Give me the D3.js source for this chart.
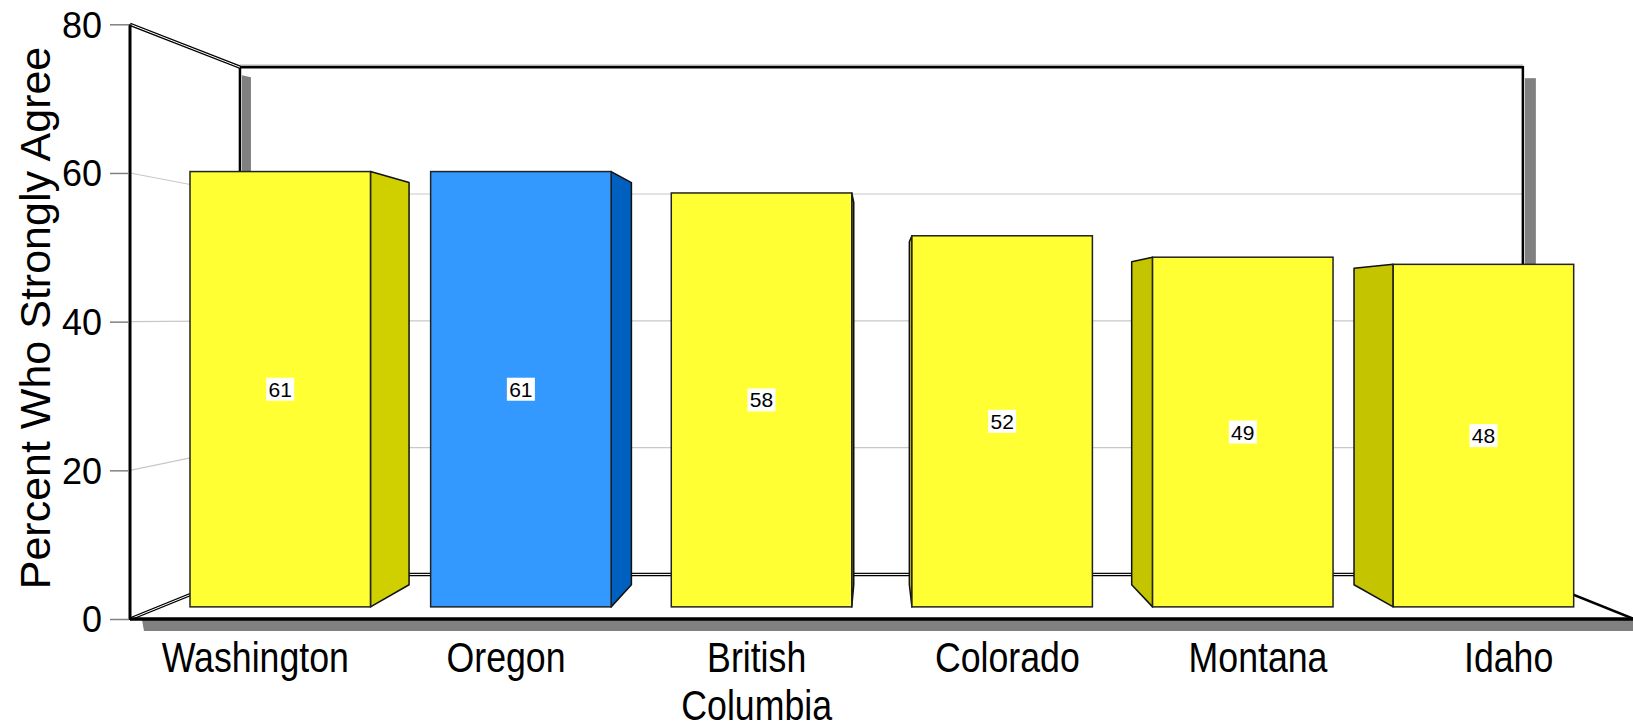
<!DOCTYPE html>
<html><head><meta charset="utf-8">
<script src="https://cdn.jsdelivr.net/npm/d3@7"></script>
<style>html,body{margin:0;padding:0;background:#fff;}svg{display:block;}</style>
</head><body>
<script>
const categories = ["Washington", "Oregon", "British Columbia", "Colorado", "Montana", "Idaho"];
const values = [61, 61, 58, 52, 49, 48];
const highlight = ["Oregon"];
const yTicks = [0, 20, 40, 60, 80];
const yTitle = "Percent Who Strongly Agree";

const W = 1633, H = 728;
const svg = d3.select("body").append("svg").attr("width", W).attr("height", H);

// front-plane world scales
const x = d3.scaleBand().domain(categories).range([130, 1634]).paddingInner(0.25).paddingOuter(0.125);
const y = d3.scaleLinear().domain([0, 80]).range([619, 24.3]);

// perspective
const vx = 878, vy = 316;
const sBack = 0.853, s1 = 0.96, s2 = 0.887;
const P = (xw, yw, s) => [vx + (xw - vx) * s, vy + (yw - vy) * s];
const x0 = 130, x1 = 1634;
const line = d3.line();

// back wall
const bTL = P(x0, y(80), sBack), bBR = P(x1, y(0), sBack);
svg.append("rect").attr("x", bTL[0]).attr("y", bTL[1]).attr("width", bBR[0] - bTL[0]).attr("height", bBR[1] - bTL[1]).attr("fill", "#fff");

// back wall shadows
svg.append("path").attr("d", line([[bTL[0] + 2, bTL[1] + 8], [bTL[0] + 11, bTL[1] + 10], [bTL[0] + 11, bBR[1]], [bTL[0] + 2, bBR[1]]])).attr("fill", "#808080");
svg.append("rect").attr("x", bBR[0] + 2).attr("y", bTL[1] + 11).attr("width", 11).attr("height", bBR[1] - bTL[1] - 11).attr("fill", "#808080");

// gridlines
yTicks.filter(t => t > 0 && t < 80).forEach(t => {
  svg.append("path").attr("d", line([[x0, y(t)], P(x0, y(t), sBack), P(x1, y(t), sBack)]))
    .attr("fill", "none").attr("stroke", "#c8c8c8").attr("stroke-width", 1.2);
});

// back wall edges
svg.append("path").attr("d", line([[bTL[0], bBR[1]], bTL, [bBR[0], bTL[1]], [bBR[0], bBR[1]]]))
  .attr("fill", "none").attr("stroke", "#000").attr("stroke-width", 2.5);
svg.append("line").attr("x1", bTL[0]).attr("x2", bBR[0]).attr("y1", bTL[1] - 2).attr("y2", bTL[1] - 2).attr("stroke", "#888").attr("stroke-width", 1);
// left wall top edge (double)
const lt = P(x0, y(80), sBack);
svg.append("line").attr("x1", x0).attr("y1", y(80)).attr("x2", lt[0]).attr("y2", lt[1]).attr("stroke", "#000").attr("stroke-width", 3.5);
svg.append("line").attr("x1", x0).attr("y1", y(80)).attr("x2", lt[0]).attr("y2", lt[1]).attr("stroke", "#fff").attr("stroke-width", 1);

// floor
const fBL = P(x0, y(0), sBack), fBR = P(x1, y(0), sBack);
svg.append("path").attr("d", line([[x0, y(0)], [x1, y(0)], fBR, fBL]) + "Z").attr("fill", "#fff");
svg.append("path").attr("d", line([[x0, y(0)], fBL, fBR])).attr("fill", "none").attr("stroke", "#000").attr("stroke-width", 3.5);
svg.append("path").attr("d", line([[x0, y(0)], fBL, fBR])).attr("fill", "none").attr("stroke", "#fff").attr("stroke-width", 1);
svg.append("line").attr("x1", fBR[0]).attr("y1", fBR[1]).attr("x2", x1).attr("y2", y(0)).attr("stroke", "#000").attr("stroke-width", 2.5);
// floor shadow
svg.append("path").attr("d", line([[x0 + 12, y(0) + 1], [x1, y(0) + 1], [x1, y(0) + 12], [x0 + 14, y(0) + 12]]) + "Z").attr("fill", "#808080");
svg.append("line").attr("x1", x0).attr("y1", y(0)).attr("x2", x1).attr("y2", y(0)).attr("stroke", "#000").attr("stroke-width", 3.5);

// left axis
svg.append("line").attr("x1", x0).attr("y1", y(80)).attr("x2", x0).attr("y2", y(0) + 1).attr("stroke", "#000").attr("stroke-width", 3);
const yAxis = d3.axisLeft(y).tickValues(yTicks).tickSize(19).tickPadding(8);
const yg = svg.append("g").attr("transform", `translate(${x0 - 1},0)`).call(yAxis);
yg.select(".domain").remove();
yg.selectAll(".tick line").attr("stroke", "#808080").attr("stroke-width", 1.5);
yg.selectAll(".tick text").attr("font-family", "Liberation Sans, Arial, sans-serif").attr("font-size", 36).attr("fill", "#000").attr("dy", "0.36em");

// y title
svg.append("text").attr("transform", "translate(50,318) rotate(-90)").attr("text-anchor", "middle")
  .attr("font-family", "Liberation Sans, Arial, sans-serif").attr("font-size", 43).attr("fill", "#000").text(yTitle);

// bars
categories.forEach((c, i) => {
  const v = values[i];
  const isHi = highlight.includes(c);
  const front = isHi ? "#3399ff" : "#ffff33";
  const xl = x(c), xr = x(c) + x.bandwidth(), cx = x(c) + x.bandwidth() / 2;
  const rightSide = cx < vx;
  const side = isHi ? "#0060c0" : (rightSide ? "#d0d000" : "#c4c400");
  const xs = rightSide ? xr : xl;
  svg.append("path").attr("d", line([P(xs, y(v), s1), P(xs, y(v), s2), P(xs, y(0), s2), P(xs, y(0), s1)]) + "Z")
    .attr("fill", side).attr("stroke", "#111").attr("stroke-width", 1.5).attr("stroke-linejoin", "round");
  const a = P(xl, y(v), s1), b = P(xr, y(0), s1);
  svg.append("rect").attr("x", a[0]).attr("y", a[1]).attr("width", b[0] - a[0]).attr("height", b[1] - a[1])
    .attr("fill", front).attr("stroke", "#222").attr("stroke-width", 1.5);
  const m = P(cx, y(v / 2), s1);
  svg.append("rect").attr("x", m[0] - 14).attr("y", m[1] - 11.5).attr("width", 28).attr("height", 23).attr("fill", "#fff");
  svg.append("text").attr("x", m[0]).attr("y", m[1]).attr("dy", "0.36em").attr("text-anchor", "middle")
    .attr("font-family", "Liberation Sans, Arial, sans-serif").attr("font-size", 21).attr("fill", "#000").text(v);
});

// x labels (condensed)
categories.forEach(c => {
  const words = c === "British Columbia" ? ["British", "Columbia"] : [c];
  const g = svg.append("g").attr("transform", `translate(${x(c) + x.bandwidth() / 2},0) scale(0.85,1)`);
  const t = g.append("text").attr("text-anchor", "middle")
    .attr("font-family", "Liberation Sans Narrow, Liberation Sans, Arial, sans-serif")
    .attr("font-size", 42).attr("fill", "#000");
  words.forEach((w, k) => t.append("tspan").attr("x", 0).attr("y", 672 + k * 48).text(w));
});
</script>
</body></html>
